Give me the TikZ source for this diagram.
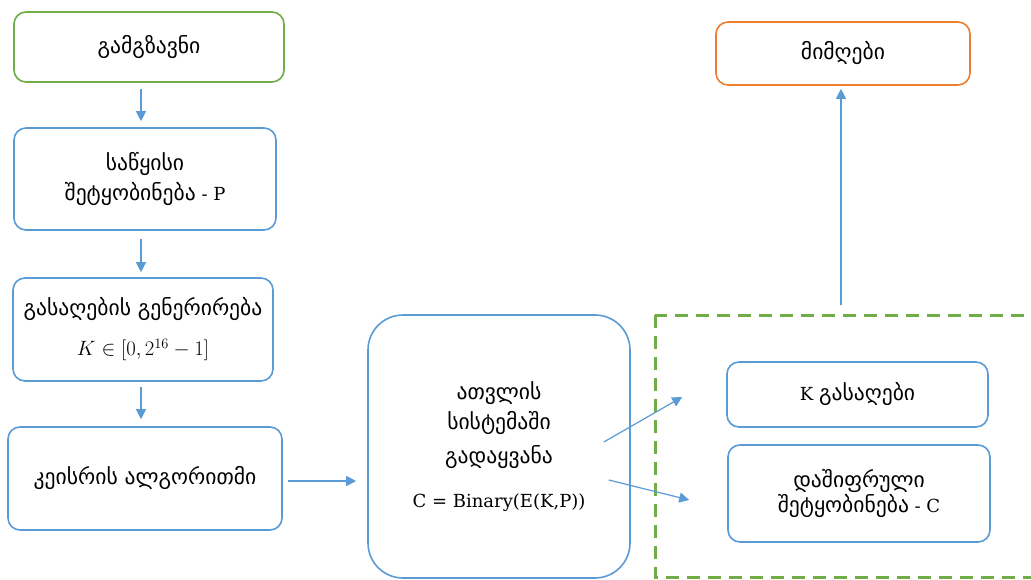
\documentclass[tikz,border=0pt]{standalone}
\usepackage{fontspec}
\setmainfont{DejaVu Serif}
\usetikzlibrary{arrows.meta,calc}
\newfontfamily\ka{DejaVu Sans}[Scale=1.2]
\definecolor{bl}{HTML}{5B9BD5}
\definecolor{gr}{HTML}{70AD47}
\definecolor{orng}{HTML}{ED7D31}
\newcommand{\mathbig}[1]{{\fontsize{22.5}{30}\selectfont #1}}
\begin{document}
\begin{tikzpicture}[x=1pt,y=-1pt,
  box/.style={draw=bl, line width=1.6pt, rounded corners=12pt, align=center,
    inner sep=0pt, fill=white, font=\fontsize{18}{30}\selectfont},
  arr/.style={draw=bl, line width=1.2pt, -{Triangle[width=10pt,length=10pt]}},
  grp/.style={draw=gr, line width=3pt, dash pattern=on 13pt off 8pt}]
\useasboundingbox (0,0) rectangle (1031,580);
\fill[white] (0,0) rectangle (1031,580);
% dashed group (runs off the right edge)
\begin{scope}
  \clip (0,0) rectangle (1031,580);
  \draw[grp] (655,315) rectangle (1050,577);
\end{scope}
\coordinate (grptop) at (841,315);
% nodes
\node[box, draw=gr, minimum width=270pt, minimum height=70pt] (snd) at (149,47) {{\ka გამგზავნი}};
\node[box, minimum width=262pt, minimum height=102pt] (msg) at (145,179)
  {{\ka საწყისი}\\{\ka შეტყობინება} - P};
\node[box, minimum width=260pt, minimum height=103pt] (key) at (143,329.5)
  {{\ka გასაღების გენერირება}\\[10pt]\mathbig{$K \in [0, 2^{16}-1]$}};
\node[box, minimum width=274pt, minimum height=103pt] (caesar) at (145,478.5)
  {{\ka კეისრის ალგორითმი}};
\node[box, rounded corners=35pt, minimum width=262pt, minimum height=263pt] (conv) at (499,446.5)
  {{\ka ათვლის}\\{\ka სისტემაში}\\[4pt]{\ka გადაყვანა}\\[14pt]C = Binary(E(K,P))};
\node[box, minimum width=261pt, minimum height=65pt] (kk) at (857.5,394.5)
  {K {\ka გასაღები}};
\node[box, minimum width=262pt, minimum height=97pt, font=\fontsize{18}{22}\selectfont] (enc) at (859,493.5)
  {{\ka დაშიფრული}\\{\ka შეტყობინება} - C};
\node[box, draw=orng, minimum width=254pt, minimum height=63pt] (rcv) at (843,53.5)
  {{\ka მიმღები}};
% connectors
\draw[arr] ($(snd.south)+(-8,6)$) -- ($(msg.north)+(-4,-6)$);
\draw[arr] ($(msg.south)+(-4,8)$) -- ($(key.north)+(-2,-5)$);
\draw[arr] ($(key.south)+(-2,5)$) -- ($(caesar.north)+(-4,-7)$);
\draw[arr] ($(caesar.east)+(5,2.5)$) -- ($(conv.west)+(-11,34.5)$);
\draw[arr] ($(conv.east)+(-27,-4.5)$) -- ($(kk.west)+(-44,2.5)$);
\draw[arr] ($(conv.east)+(-22,33.5)$) -- ($(enc.west)+(-38,6.5)$);
\draw[arr] ($(grptop)+(0,-10)$) -- ($(rcv.south)+(-2,3)$);
\end{tikzpicture}
\end{document}
